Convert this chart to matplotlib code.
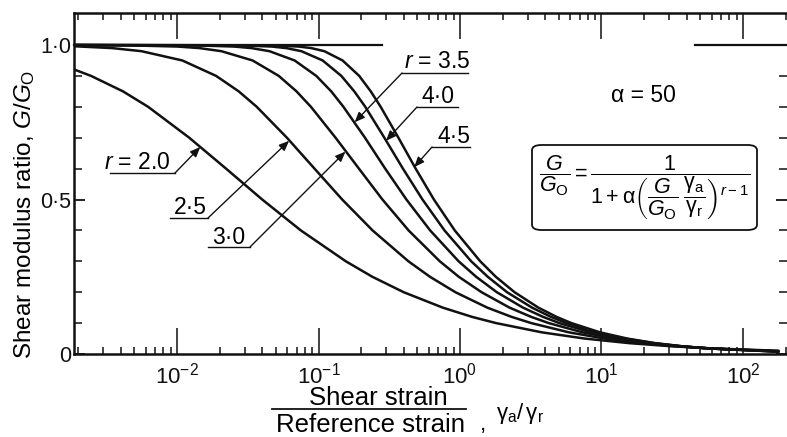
import matplotlib.pyplot as plt
from matplotlib.lines import Line2D
from matplotlib.patches import FancyBboxPatch
from matplotlib.ticker import FixedLocator, NullFormatter

plt.rcParams['font.family'] = ['Liberation Sans', 'DejaVu Sans']
plt.rcParams['mathtext.fontset'] = 'custom'
plt.rcParams['mathtext.rm'] = 'Liberation Sans'
plt.rcParams['mathtext.it'] = 'Liberation Sans:italic'
plt.rcParams['mathtext.bf'] = 'Liberation Sans:bold'

# Curves (alpha = 50)
strain_r20 = [0.00187, 0.00247, 0.00415, 0.00625, 0.0122, 0.0222, 0.040, 0.075, 0.156, 0.240,
              0.400, 0.756, 1.22, 1.80, 3.80, 7.60, 15.8, 31.2, 60.6, 177]
ratio_r20 = [0.921, 0.90, 0.85, 0.80, 0.70, 0.60, 0.50, 0.40, 0.30, 0.25,
             0.20, 0.15, 0.12, 0.10, 0.07, 0.05, 0.035, 0.025, 0.018, 0.0106]

strain_r25 = [0.00187, 0.00348, 0.00561, 0.0109, 0.0189, 0.0273, 0.0366, 0.0598, 0.0937, 0.147,
              0.241, 0.432, 0.613, 0.928, 1.56, 2.32, 3.19, 5.90, 10.5, 19.2, 33.9, 58.9, 177]
ratio_r25 = [0.996, 0.99, 0.98, 0.95, 0.90, 0.85, 0.80, 0.70, 0.60, 0.50,
             0.40, 0.30, 0.25, 0.20, 0.15, 0.12, 0.10, 0.07, 0.05, 0.035, 0.025, 0.018, 0.0093]

strain_r30 = [0.00187, 0.00448, 0.0101, 0.0144, 0.0206, 0.0342, 0.0524, 0.0699, 0.0884, 0.132,
              0.193, 0.283, 0.433, 0.720, 0.980, 1.42, 2.24, 3.19, 4.24, 7.36, 12.3, 21.2, 35.3, 58.0, 177]
ratio_r30 = [1.0, 0.999, 0.995, 0.99, 0.98, 0.95, 0.90, 0.85, 0.80, 0.70,
             0.60, 0.50, 0.40, 0.30, 0.25, 0.20, 0.15, 0.12, 0.10, 0.07, 0.05, 0.035, 0.025, 0.018, 0.0087]

strain_r35 = [0.00187, 0.0132, 0.0253, 0.0336, 0.0450, 0.0678, 0.0965, 0.123, 0.150, 0.213,
              0.296, 0.418, 0.615, 0.978, 1.30, 1.82, 2.79, 3.87, 5.04, 8.41, 13.6, 22.5, 36.2, 57.5, 177]
ratio_r35 = [1.0, 0.999, 0.995, 0.99, 0.98, 0.95, 0.90, 0.85, 0.80, 0.70,
             0.60, 0.50, 0.40, 0.30, 0.25, 0.20, 0.15, 0.12, 0.10, 0.07, 0.05, 0.035, 0.025, 0.018, 0.0081]

strain_r40 = [0.00187, 0.0272, 0.0467, 0.0593, 0.0757, 0.107, 0.145, 0.179, 0.214, 0.292,
              0.395, 0.543, 0.777, 1.20, 1.57, 2.15, 3.23, 4.40, 5.65, 9.19, 14.5, 23.4, 36.8, 57.2, 177]
ratio_r40 = [1.0, 0.999, 0.995, 0.99, 0.98, 0.95, 0.90, 0.85, 0.80, 0.70,
             0.60, 0.50, 0.40, 0.30, 0.25, 0.20, 0.15, 0.12, 0.10, 0.07, 0.05, 0.035, 0.025, 0.018, 0.0078]

strain_r45 = [0.00187, 0.0455, 0.0724, 0.0889, 0.110, 0.148, 0.194, 0.234, 0.275, 0.367,
              0.486, 0.654, 0.918, 1.39, 1.79, 2.43, 3.58, 4.82, 6.13, 9.78, 15.2, 24.1, 37.3, 57.0, 177]
ratio_r45 = [1.0, 0.999, 0.995, 0.99, 0.98, 0.95, 0.90, 0.85, 0.80, 0.70,
             0.60, 0.50, 0.40, 0.30, 0.25, 0.20, 0.15, 0.12, 0.10, 0.07, 0.05, 0.035, 0.025, 0.018, 0.0075]

curve_labels = ["$r$ = 2.0", "2·5", "3·0", "$r$ = 3.5", "4·0", "4·5"]
# where each leader arrow touches its curve
tip_strain = [0.0146, 0.062, 0.155, 0.18, 0.30, 0.475]
tip_ratio = [0.67, 0.69, 0.655, 0.75, 0.69, 0.605]

# reference line at G/Go = 1 (two pieces)
ref_line_spans = [(0.00187, 0.28), (46, 210)]

x_ticks = [1e-2, 1e-1, 1e0, 1e1, 1e2]
x_tick_labels = ["$10^{-2}$", "$10^{-1}$", "$10^{0}$", "$10^{1}$", "$10^{2}$"]
y_ticks = [0, 0.5, 1.0]
y_tick_labels = ["0", "0·5", "1·0"]

W, H = 787, 437
INK = "#111111"


def fp(x, y):
    # pixel position -> figure fraction
    return x / W, 1 - y / H


fig = plt.figure(figsize=(W / 100, H / 100), dpi=100)
ax = fig.add_axes([74 / W, (H - 354) / H, (W - 74) / W, (354 - 13) / H])

curves = [(strain_r20, ratio_r20), (strain_r25, ratio_r25), (strain_r30, ratio_r30),
          (strain_r35, ratio_r35), (strain_r40, ratio_r40), (strain_r45, ratio_r45)]
for xs, ys in curves:
    ax.plot(xs, ys, color=INK, lw=1.8, solid_joinstyle="round")

for x0, x1 in ref_line_spans:
    ax.plot([x0, x1], [1.0, 1.0], color=INK, lw=1.6, clip_on=False)

ax.set_xscale("log")
ax.set_xlim(10 ** -2.728, 10 ** 2.311)
ax.set_ylim(0, 1.1036)

ax.xaxis.set_major_locator(FixedLocator(x_ticks))
ax.set_xticklabels(x_tick_labels)
minors = [m * 10.0 ** e for e in range(-3, 3) for m in range(2, 10)]
ax.xaxis.set_minor_locator(FixedLocator(minors))
ax.xaxis.set_minor_formatter(NullFormatter())
ax.set_yticks(y_ticks)
ax.set_yticklabels(y_tick_labels)
ax.yaxis.set_minor_locator(FixedLocator([0.1, 0.2, 0.3, 0.4, 0.6, 0.7, 0.8, 0.9]))

ax.tick_params(axis="x", which="major", direction="in", length=19, width=1.1,
               top=True, bottom=True, labelsize=16, pad=6, colors=INK)
ax.tick_params(axis="x", which="minor", direction="in", length=5, width=1.1,
               top=True, bottom=True, colors=INK)
ax.tick_params(axis="y", which="major", direction="in", length=8, width=1.3,
               left=True, right=True, labelsize=15.5, pad=2, colors=INK)
ax.tick_params(axis="y", which="minor", direction="in", length=6, width=1.1,
               left=True, right=True, colors=INK)

for side in ["left", "top", "bottom"]:
    ax.spines[side].set_linewidth(1.8)
    ax.spines[side].set_color(INK)
ax.spines["right"].set_visible(False)

fig.text(*fp(25, 214), "Shear modulus ratio, $G/G_\\mathrm{O}$", fontsize=17.5,
         rotation=90, ha="center", va="center")

# x label as a fraction
fig.text(*fp(378, 405), "Shear strain", fontsize=18.5, ha="center", va="baseline")
fig.add_artist(Line2D([272 / W, 466 / W], [1 - 409 / H, 1 - 409 / H], color=INK, lw=1.3))
fig.text(*fp(371, 432), "Reference strain", fontsize=18.5, ha="center", va="baseline")
fig.text(*fp(480, 430), ",", fontsize=16, ha="left", va="baseline")
fig.text(*fp(496, 414), "$\\mathrm{\\gamma_a}/\\,\\mathrm{\\gamma_r}$", fontsize=16,
         ha="left", va="center")

# curve labels: (text x, baseline y, underline x0, x1, underline y, elbow x)
label_layout = [(104, 169, 110, 175, 173, 175),
                (174, 214, 170, 208, 218, 208),
                (212, 244, 208, 250, 247, 250),
                (404, 68, 402, 468, 73, 402),
                (422, 103, 417, 458, 107, 417),
                (437, 143, 432, 470, 147, 432)]

for text, (tx, ty, ux0, ux1, uy, ex), sx, sy in zip(curve_labels, label_layout, tip_strain, tip_ratio):
    fig.text(*fp(tx, ty), text, fontsize=16.5, ha="left", va="baseline")
    fig.add_artist(Line2D([ux0 / W, ux1 / W], [1 - uy / H, 1 - uy / H], color=INK, lw=1.0))
    ax.annotate("", xy=(sx, sy), xycoords="data", xytext=fp(ex, uy),
                textcoords="figure fraction",
                arrowprops=dict(arrowstyle="-|>,head_length=0.6,head_width=0.25",
                                mutation_scale=10, lw=1.0,
                                color=INK, shrinkA=0, shrinkB=0))

fig.text(*fp(643, 96), "α = 50", fontsize=16.5, ha="center", va="center")

box = FancyBboxPatch(fp(532, 230), (757 - 532) / W, (230 - 145) / H,
                     boxstyle="round,pad=0,rounding_size=0.012",
                     transform=fig.transFigure, fill=False, lw=1.3, ec=INK)
fig.add_artist(box)
formula = ("$\\dfrac{G}{G_\\mathrm{O}} = \\dfrac{1}{1+\\mathrm{\\alpha}\\left(\\dfrac{G}{G_\\mathrm{O}}\\;"
           "\\dfrac{\\mathrm{\\gamma_a}}{\\mathrm{\\gamma_r}}\\right)^{r-1}}$")
fig.text(*fp(645, 188), formula, fontsize=15.5, ha="center", va="center")

fig.savefig("out.png", dpi=100)
plt.close(fig)
